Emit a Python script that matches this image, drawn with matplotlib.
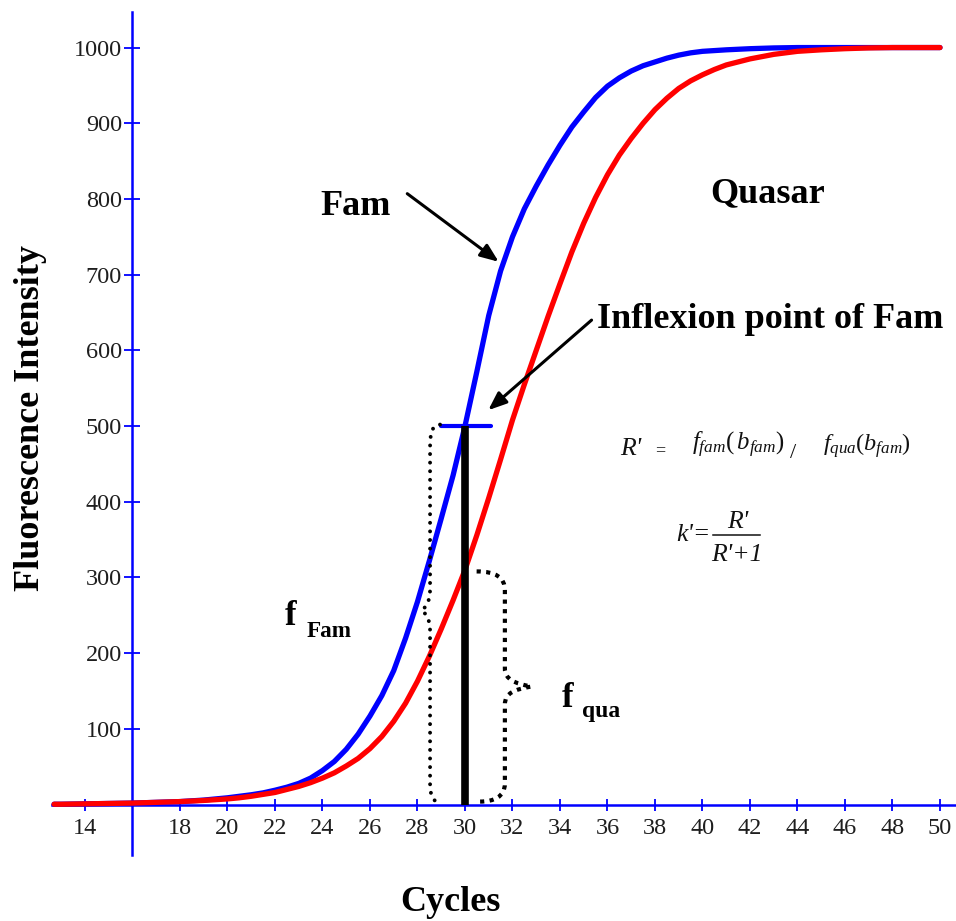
import matplotlib
matplotlib.use('Agg')
import matplotlib.pyplot as plt
from matplotlib.path import Path
from matplotlib.patches import PathPatch

# ---------------- data ----------------
cycles = [12.7, 13, 14, 15, 16, 17, 18, 19, 20,
          20.5, 21, 21.5, 22, 22.5, 23, 23.5, 24, 24.5, 25,
          25.5, 26, 26.5, 27, 27.5, 28, 28.5, 29, 29.5, 30,
          30.5, 31, 31.5, 32, 32.5, 33, 33.5, 34, 34.5, 35,
          35.5, 36, 36.5, 37, 37.5, 38, 38.5, 39, 39.5, 40,
          40.5, 41,
          42, 43, 44, 45, 46, 47, 48, 49, 50]
fam = [0.5, 0.5, 1, 1.5, 2, 3, 4, 6, 9,
       11, 13, 15.5, 19, 23, 28, 35, 45, 57, 73,
       93, 117, 144, 177, 220, 268, 322, 378, 435, 500,
       572, 646, 705, 750, 787, 817, 845, 871, 895, 915,
       934, 949, 960, 969, 976, 981, 986, 990, 993, 995,
       996, 997,
       998.5, 999.5, 1000, 1000, 1000, 1000, 1000, 1000, 1000]
quasar = [0.5, 0.5, 1, 1.5, 2, 3, 4, 5.5, 7.5,
          9, 11, 13.5, 16, 20, 24, 29, 35, 42, 51,
          61, 74, 90, 110, 134, 163, 196, 232, 270, 310,
          356, 405, 456, 508, 555, 600, 645, 688, 730, 768,
          802, 832, 858, 880, 900, 918, 933, 946, 956, 964,
          971, 977,
          985, 991, 995, 997, 998.5, 999.5, 1000, 1000, 1000]

xtick_values = [14, 18, 20, 22, 24, 26, 28, 30, 32, 34, 36, 38, 40, 42, 44, 46, 48, 50]
ytick_values = [100, 200, 300, 400, 500, 600, 700, 800, 900, 1000]

inflexion_cycle = 30
inflexion_value = 500
inflexion_bar = [29.0, 31.1]

# ---------------- style ----------------
BLUE = '#0000ff'
RED = '#ff0000'
plt.rcParams['font.family'] = ['Liberation Serif', 'DejaVu Serif']
plt.rcParams['mathtext.fontset'] = 'custom'
plt.rcParams['mathtext.rm'] = 'Liberation Serif'
plt.rcParams['mathtext.it'] = 'Liberation Serif:italic'
plt.rcParams['mathtext.bf'] = 'Liberation Serif:bold'

fig = plt.figure(figsize=(9.56, 9.21), dpi=100)
ax = fig.add_axes([0.0541, 0.0713, 0.9458, 0.9157])
ax.set_xlim(12.6, 50.67)
ax.set_ylim(-67, 1047)

for s in ['top', 'right']:
    ax.spines[s].set_visible(False)
ax.spines['left'].set_position(('data', 16))
ax.spines['bottom'].set_position(('data', 0))
for s in ['left', 'bottom']:
    ax.spines[s].set_color(BLUE)
    ax.spines[s].set_linewidth(1.8)
    ax.spines[s].set_zorder(1)

ax.set_xticks(xtick_values)
ax.set_xticklabels([str(v) for v in xtick_values])
ax.set_yticks(ytick_values)
ax.set_yticklabels([str(v) for v in ytick_values])
ax.tick_params(axis='x', direction='inout', length=9, width=1.3, color=BLUE, pad=5,
               labelsize=17.5, labelcolor='#1e1e1e')
ax.tick_params(axis='y', direction='inout', length=11, width=1.3, color=BLUE, pad=2,
               labelsize=17.5, labelcolor='#1e1e1e')

# curves
ax.plot(cycles, fam, color=BLUE, lw=3.8, solid_capstyle='round', solid_joinstyle='round',
        zorder=3, clip_on=False)
ax.plot(cycles, quasar, color=RED, lw=3.8, solid_capstyle='round', solid_joinstyle='round',
        zorder=4, clip_on=False)

# inflexion marker
ax.hlines(inflexion_value, inflexion_bar[0], inflexion_bar[1], color=BLUE, lw=3,
          capstyle='round', zorder=5)
ax.vlines(inflexion_cycle, 0, inflexion_value, color='black', lw=5.5, zorder=6)

# dotted braces
L = Path.LINETO
C = Path.CURVE4
M = Path.MOVETO
left_brace = [(28.95, 502), (28.6, 502), (28.53, 490), (28.53, 470), (28.53, 285),
              (28.53, 268), (28.35, 260), (28.18, 257), (28.35, 252), (28.53, 246),
              (28.53, 228), (28.53, 28), (28.53, 12), (28.65, 6), (28.8, 4)]
left_codes = [M, C, C, C, L, C, C, C, C, C, C, L, C, C, C]
ax.add_patch(PathPatch(Path(left_brace, left_codes), fill=False, lw=2.8,
                       linestyle=(0, (0.01, 2.2)), capstyle='round', edgecolor='black',
                       zorder=7))
right_brace = [(30.49, 308), (31.3, 308), (31.68, 300), (31.68, 283), (31.68, 180),
               (31.68, 165), (32.1, 160), (32.8, 156), (32.1, 152), (31.68, 148),
               (31.68, 132), (31.68, 28), (31.68, 10), (31.2, 4), (30.63, 4)]
right_codes = [M, C, C, C, L, C, C, C, C, C, C, L, C, C, C]
ax.add_patch(PathPatch(Path(right_brace, right_codes), fill=False, lw=3.0,
                       linestyle=(0, (1, 1.3)), capstyle='butt', edgecolor='black',
                       zorder=7))

# arrows
arrow_kw = dict(arrowstyle='-|>,head_length=0.55,head_width=0.22', color='black', lw=2.2,
                mutation_scale=20, shrinkA=0, shrinkB=0)
ax.annotate('', xy=(31.42, 717), xytext=(27.57, 807), arrowprops=arrow_kw, zorder=8)
ax.annotate('', xy=(30.98, 521), xytext=(35.33, 640), arrowprops=arrow_kw, zorder=8)

# labels
big = dict(fontsize=26, fontweight='bold', color='black')
ax.text(23.9, 779, 'Fam', ha='left', va='baseline', **big)
ax.text(42.74, 796, 'Quasar', ha='center', va='baseline', **big)
ax.text(35.55, 629, 'Inflexion point of Fam', ha='left', va='baseline', **big)

ax.text(22.42, 237, 'f', ha='left', va='baseline', fontsize=25, fontweight='bold')
ax.text(23.35, 222, 'Fam', ha='left', va='baseline', fontsize=16.7, fontweight='bold')
ax.text(34.07, 129, 'f', ha='left', va='baseline', fontsize=25, fontweight='bold')
ax.text(34.91, 116, 'qua', ha='left', va='baseline', fontsize=17, fontweight='bold')

# formulas
INK = '#111111'
ital = dict(fontsize=18.5, fontstyle='italic', color=INK)
ax.text(36.53, 462, "R'", ha='left', va='baseline', **ital)
ax.text(38.0, 462, '=', ha='left', va='baseline', fontsize=13, color=INK)
ax.text(39.55, 468, r'$f_{fam}(\,b_{fam})$', ha='left', va='baseline', fontsize=17.8,
        color=INK)
ax.text(43.68, 458, '/', ha='left', va='baseline', fontsize=16, color=INK)
ax.text(45.07, 468, r'$f_{qua}(b_{fam})$', ha='left', va='baseline', fontsize=17.5,
        color=INK)

ax.text(38.91, 356, "k'=", ha='left', va='center', **ital)
ax.plot([40.44, 42.42], [356, 356], color=INK, lw=1.1)
ax.text(41.5, 366, "R'", ha='center', va='baseline', **ital)
ax.text(41.43, 322, "R'+1", ha='center', va='baseline', **ital)

fig.text(31 / 956, 1 - 418 / 921, 'Fluorescence Intensity', rotation=90, ha='center',
         va='center', fontsize=26, fontweight='bold')
fig.text(450 / 956, 10 / 921, 'Cycles', ha='center', va='baseline', fontsize=26,
         fontweight='bold')

fig.savefig('out.png', dpi=100, facecolor='white')
